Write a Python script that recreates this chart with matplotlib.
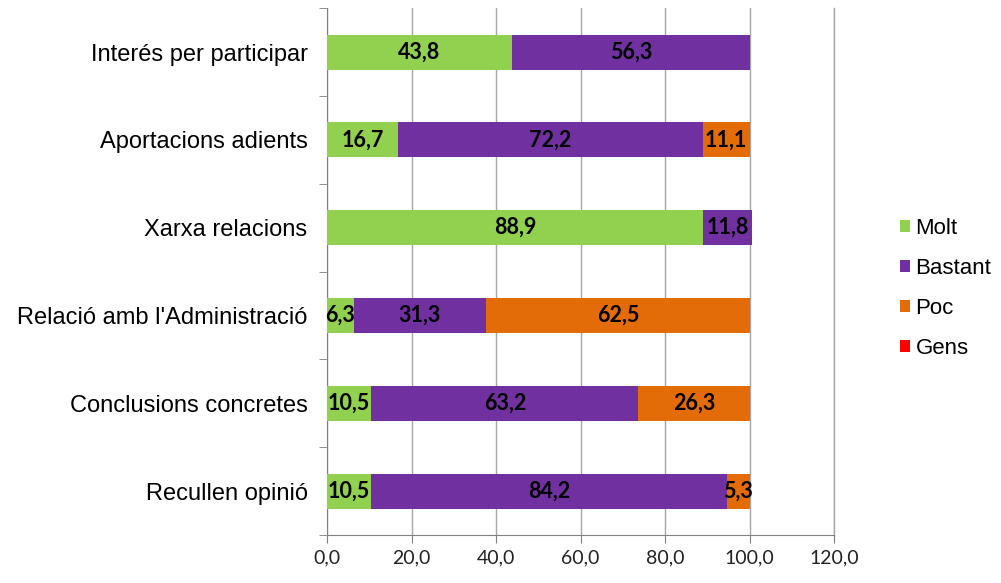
import matplotlib
matplotlib.use("Agg")
import matplotlib.pyplot as plt
import numpy as np

# --- dades ---
categories = [
    "Interés per participar",
    "Aportacions adients",
    "Xarxa relacions",
    "Relació amb l'Administració",
    "Conclusions concretes",
    "Recullen opinió",
]
molt = [43.8, 16.7, 88.9, 6.3, 10.5, 10.5]
bastant = [56.3, 72.2, 11.8, 31.3, 63.2, 84.2]
poc = [0.0, 11.1, 0.0, 62.5, 26.3, 5.3]
gens = [0.0, 0.0, 0.0, 0.0, 0.0, 0.0]

series = [
    ("Molt", molt, "#92D050"),
    ("Bastant", bastant, "#7030A0"),
    ("Poc", poc, "#E36C09"),
    ("Gens", gens, "#FF0000"),
]

x_ticks = [0, 20, 40, 60, 80, 100, 120]

fig = plt.figure(figsize=(10.01, 5.83), dpi=100)
ax = fig.add_axes([0.3267, 0.0823, 0.8332 - 0.3267, 0.986 - 0.0823])

# la primera categoria a dalt
y = np.arange(len(categories))[::-1]
left = np.zeros(len(categories))
handles = []
for name, vals, color in series:
    vals = np.array(vals)
    bars = ax.barh(y, vals, left=left, height=0.4, color=color,
                   label=name, zorder=3)
    handles.append(bars)
    for yi, l, v in zip(y, left, vals):
        if v > 0:
            ax.text(l + v / 2, yi, f"{v:.1f}".replace(".", ","),
                    ha="center", va="center", fontsize=15.5,
                    fontweight="bold", family="Lato", color="black",
                    zorder=4)
    left = left + vals

ax.set_xlim(0, 120)
ax.set_ylim(-0.5, len(categories) - 0.5)
ax.set_xticks(x_ticks)
ax.set_xticklabels([f"{v:.1f}".replace(".", ",") for v in x_ticks],
                   family="Lato", fontsize=14, color="#222222")
ax.set_yticks(y)
ax.set_yticklabels(categories, family="Liberation Sans", fontsize=17,
                   color="black")
ax.set_yticks(np.arange(-0.5, len(categories), 1.0), minor=True)
ax.tick_params(axis="y", which="major", length=0, pad=14)
ax.tick_params(axis="y", which="minor", length=6, color="#808080",
               direction="out")
ax.tick_params(axis="x", length=6, color="#808080", direction="out", pad=4)

ax.grid(True, axis="x", color="#A6A6A6", linewidth=1, zorder=0)
# la línia de 120 queda a la vora: sense retallar
ax.axvline(x_ticks[-1], color="#A6A6A6", linewidth=1, zorder=0, clip_on=False)
for s in ["top", "right"]:
    ax.spines[s].set_visible(False)
ax.spines["left"].set_color("#808080")
ax.spines["bottom"].set_color("#808080")

fig.legend(handles=handles, loc="center left",
           bbox_to_anchor=(0.879, 0.505), frameon=False,
           prop={"family": "Liberation Sans", "size": 16},
           handlelength=0.45, handleheight=0.45, handletextpad=0.25,
           labelspacing=0.85)

fig.savefig("out.png", dpi=100)
plt.close(fig)
